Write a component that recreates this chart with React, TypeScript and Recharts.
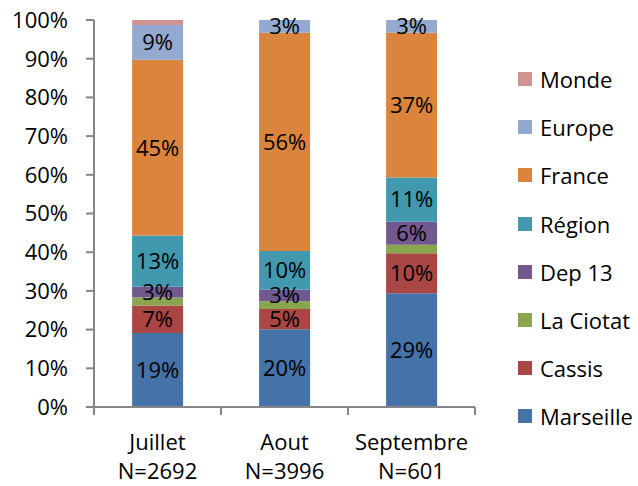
import { BarChart, Bar, XAxis, YAxis, LabelList } from "recharts";

const months = ["Juillet", "Aout", "Septembre"];
const counts = [2692, 3996, 601];

// bottom to top of the stack
const seriesNames = ["Marseille", "Cassis", "La Ciotat", "Dep 13", "Région", "France", "Europe", "Monde"];
const seriesColors = ["#4572A7", "#AA4643", "#89A54E", "#71588F", "#4198AF", "#DB843D", "#93A9CF", "#D19392"];
const showLabels = [true, true, false, true, true, true, true, false];

const marseille = [19.1, 20.1, 29.4];
const cassis = [7.1, 5.2, 10.3];
const laCiotat = [2.1, 2.0, 2.2];
const dep13 = [2.8, 3.0, 6.0];
const region = [13.2, 10.0, 11.4];
const france = [45.4, 56.4, 37.4];
const europe = [9.0, 3.3, 3.3];
const monde = [1.3, 0, 0];

const yTicks = [0, 10, 20, 30, 40, 50, 60, 70, 80, 90, 100];

const seriesValues = [marseille, cassis, laCiotat, dep13, region, france, europe, monde];
const keys = ["s0", "s1", "s2", "s3", "s4", "s5", "s6", "s7"];

const data = months.map((m, i) => {
  const row: Record<string, string | number> = { month: m, n: counts[i] };
  seriesValues.forEach((vals, s) => {
    row[keys[s]] = vals[i];
  });
  return row;
});

const FONT = "'Open Sans', 'Noto Sans', sans-serif";
const AXIS = "#868686";
const FS = 22;

const MonthTick = (props: any) => {
  const { x, y, payload, index } = props;
  const half = payload && payload.offset ? payload.offset : 63.5;
  return (
    <g>
      <line x1={x - half} y1={y} x2={x - half} y2={y + 8} stroke={AXIS} strokeWidth={2} />
      {index === months.length - 1 && (
        <line x1={x + half} y1={y} x2={x + half} y2={y + 8} stroke={AXIS} strokeWidth={2} />
      )}
      <text x={x} y={y} textAnchor="middle" fontSize={FS} fill="#000" fontFamily={FONT}>
        <tspan x={x} dy={43}>{payload.value}</tspan>
        <tspan x={x} dy={29}>N={counts[index]}</tspan>
      </text>
    </g>
  );
};

export default function App() {
  const legendItems = seriesNames.map((name, i) => ({ name, color: seriesColors[i] })).reverse();
  return (
    <div style={{ position: "absolute", left: 0, top: 0, width: 638, height: 486, background: "#fff", fontFamily: FONT }}>
      <BarChart
        width={638}
        height={486}
        data={data}
        margin={{ top: 20, right: 163, left: 0, bottom: 0 }}
        barCategoryGap="30%"
      >
        <XAxis
          dataKey="month"
          height={79}
          axisLine={{ stroke: AXIS, strokeWidth: 2 }}
          tickLine={false}
          tickSize={0}
          tickMargin={0}
          tick={<MonthTick />}
          interval={0}
        />
        <YAxis
          width={94}
          domain={[0, 100]}
          ticks={yTicks}
          interval={0}
          tickFormatter={(v: number) => `${v}%`}
          axisLine={{ stroke: AXIS, strokeWidth: 2 }}
          tickLine={{ stroke: AXIS, strokeWidth: 2 }}
          tickSize={8}
          tickMargin={18}
          tick={{ fill: "#000", fontSize: FS, fontFamily: FONT }}
        />
        {keys.map((k, i) => (
          <Bar key={k} dataKey={k} name={seriesNames[i]} stackId="a" fill={seriesColors[i]} isAnimationActive={false}>
            {showLabels[i] && (
              <LabelList
                dataKey={k}
                position="center"
                formatter={(v: any) => `${Math.round(Number(v))}%`}
                fill="#000"
                fontSize={FS}
                fontFamily={FONT}
              />
            )}
          </Bar>
        ))}
      </BarChart>
      <div style={{ position: "absolute", left: 518, top: 55 }}>
        {legendItems.map((it) => (
          <div key={it.name} style={{ display: "flex", alignItems: "center", height: 48.2, whiteSpace: "nowrap" }}>
            <span style={{ display: "inline-block", width: 14, height: 14, background: it.color, marginRight: 8 }} />
            <span style={{ fontSize: FS, color: "#000" }}>{it.name}</span>
          </div>
        ))}
      </div>
    </div>
  );
}
